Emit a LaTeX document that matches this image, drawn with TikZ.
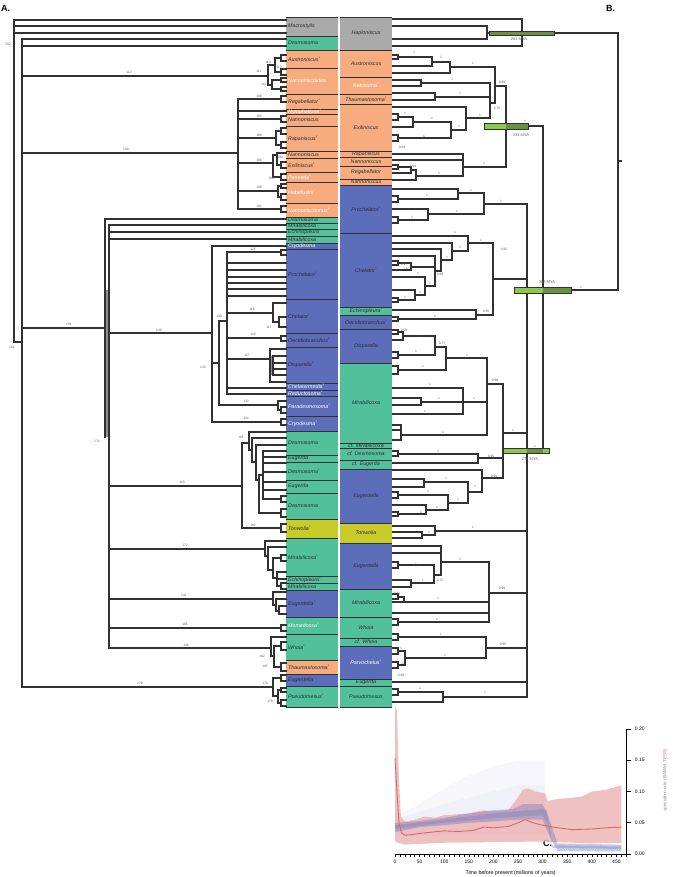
\documentclass[tikz,border=0pt]{standalone}
\usepackage{fontspec}
\setmainfont{Liberation Sans}
\definecolor{cgray}{RGB}{170,170,170}
\definecolor{cgreen}{RGB}{82,192,155}
\definecolor{corange}{RGB}{247,172,128}
\definecolor{cblue}{RGB}{92,110,185}
\definecolor{cyellow}{RGB}{200,204,42}
\definecolor{tline}{RGB}{50,50,50}
\definecolor{ctext}{RGB}{45,45,55}
\definecolor{nlab}{RGB}{95,95,95}
\definecolor{barl}{RGB}{140,200,80}
\definecolor{bard}{RGB}{105,145,65}
\definecolor{tred}{RGB}{215,105,105}
\definecolor{bred}{RGB}{236,182,182}
\definecolor{bblue}{RGB}{115,120,190}
\definecolor{ylab}{RGB}{130,135,195}
\tikzset{
 tr/.style={draw=tline, line width=1.05pt, line cap=rect},
 cb/.style={draw=tline, line width=0.7pt},
 ct/.style={font=\fontsize{5.3}{6}\selectfont\itshape, inner sep=0pt},
 nl/.style={font=\fontsize{3.3}{4}\selectfont, text=nlab, inner sep=0pt},
 al/.style={font=\fontsize{5}{6}\selectfont, inner sep=0pt},
 bigl/.style={font=\bfseries\fontsize{9}{10}\selectfont, inner sep=0pt, anchor=west},
 barout/.style={draw=tline, line width=0.5pt},
}
\newcounter{cc}
\newcounter{nn}
\newcommand{\tstar}{\textsuperscript{*}}
\newcommand{\tV}[3]{\draw[tr] (#1,#2) -- (#1,#3);}
\newcommand{\tH}[3]{\draw[tr] (#1,#3) -- (#2,#3);}
\newcommand{\tLF}[2]{\draw[tr] (#1,#2) -- (286,#2);}
\newcommand{\tRF}[2]{\draw[tr] (393,#2) -- (#1,#2);}
\newcommand{\tLP}[2]{\draw[tr] (286,#1) -- (281,#1) -- (281,#2) -- (286,#2);}
\newcommand{\tRP}[2]{\draw[tr] (393,#1) -- (398,#1) -- (398,#2) -- (393,#2);}
\newcommand{\tN}[3]{\stepcounter{nn}\node[nl] (n\thenn) at (#1,#2) {#3};}
\newcommand{\LC}[5]{\stepcounter{cc}\fill[#3] (286,#1) rectangle (338,#2); \draw[cb] (286,#1) -- (338,#1); \node[ct,text=#4,anchor=west] (lc\thecc) at (288,{(#1+#2)/2}) {#5};}
\newcommand{\RC}[5]{\stepcounter{cc}\fill[#3] (340,#1) rectangle (392,#2); \draw[cb] (340,#1) -- (392,#1); \node[ct,text=#4] (rc\thecc) at (366,{(#1+#2)/2}) {#5};}
\begin{document}
\begin{tikzpicture}[x=1pt,y=-1pt]
\useasboundingbox (0,0) rectangle (672,877);
% ---------- left column ----------
\LC{17}{36}{cgray}{ctext}{Macrostylis}
\LC{36}{50}{cgreen}{ctext}{Desmosoma}
\LC{50}{68}{corange}{ctext}{Austroniscus\tstar}
\LC{68}{94}{corange}{white}{Nannoniscoides}
\LC{94}{109}{corange}{ctext}{Regabellator\tstar}
\LC{109}{114}{corange}{white}{Nymphatione\tstar}
\LC{114}{126}{corange}{ctext}{Nannoniscus}
\LC{126}{151}{corange}{ctext}{Rapaniscus\tstar}
\LC{151}{158}{corange}{ctext}{Nannoniscus}
\LC{158}{172}{corange}{ctext}{Exiliniscus\tstar}
\LC{172}{182}{corange}{white}{Panetela\tstar}
\LC{182}{203}{corange}{white}{Hebefustis\tstar}
\LC{203}{217}{corange}{white}{Nannoniscoonus\tstar}
\LC{217}{223}{cgreen}{ctext}{Desmosoma}
\LC{223}{229}{cgreen}{ctext}{Mirabilicoxa}
\LC{229}{236}{cgreen}{ctext}{Echinopleura}
\LC{236}{243}{cgreen}{ctext}{Mirabilicoxa}
\LC{243}{249}{cblue}{white}{Cryodesma}
\LC{249}{299}{cblue}{ctext}{Prochelator\tstar}
\LC{299}{333}{cblue}{ctext}{Chelator\tstar}
\LC{333}{347}{cblue}{ctext}{Oecidiobranchus\tstar}
\LC{347}{383}{cblue}{ctext}{Disparella\tstar}
\LC{383}{390}{cblue}{white}{Chelatermedia\tstar}
\LC{390}{396}{cblue}{white}{Reductosoma\tstar}
\LC{396}{416}{cblue}{white}{Paradesmosoma\tstar}
\LC{416}{431}{cblue}{white}{Cryodesma\tstar}
\LC{431}{455}{cgreen}{ctext}{Desmosoma}
\LC{455}{462}{cgreen}{ctext}{Eugerda}
\LC{462}{480}{cgreen}{ctext}{Desmosoma\tstar}
\LC{480}{493}{cgreen}{ctext}{Eugerda}
\LC{493}{519}{cgreen}{ctext}{Desmosoma}
\LC{519}{538}{cyellow}{ctext}{Tonwolia\tstar}
\LC{538}{576}{cgreen}{ctext}{Mirabilicoxa\tstar}
\LC{576}{583}{cgreen}{ctext}{Echinopleura\tstar}
\LC{583}{590}{cgreen}{ctext}{Mirabilicoxa}
\LC{590}{617}{cblue}{ctext}{Eugerdella\tstar}
\LC{617}{634}{cgreen}{white}{Momedossa\tstar}
\LC{634}{660}{cgreen}{ctext}{Whoia\tstar}
\LC{660}{674}{corange}{ctext}{Thaumastosoma\tstar}
\LC{674}{686}{cblue}{ctext}{Eugerdella}
\LC{686}{707}{cgreen}{ctext}{Pseudomesus\tstar}
\draw[cb] (286,707) -- (338,707);
% ---------- right column ----------
\RC{17}{50}{cgray}{ctext}{Haploniscus}
\RC{50}{77}{corange}{ctext}{Austroniscus}
\RC{77}{94}{corange}{white}{Ketosoma\tstar}
\RC{94}{104}{corange}{ctext}{Thaumastosoma\tstar}
\RC{104}{151}{corange}{ctext}{Exiliniscus}
\RC{151}{157}{corange}{ctext}{Rapaniscus}
\RC{157}{166}{corange}{ctext}{Nannoniscus}
\RC{166}{179}{corange}{ctext}{Regabellator}
\RC{179}{185}{corange}{ctext}{Nannoniscus}
\RC{185}{233}{cblue}{ctext}{Prochelator\tstar}
\RC{233}{307}{cblue}{ctext}{Chelator\tstar}
\RC{307}{315}{cgreen}{ctext}{Echinopleura\tstar}
\RC{315}{329}{cblue}{ctext}{Oecidiobranchus\tstar}
\RC{329}{363}{cblue}{ctext}{Disparella}
\RC{363}{443}{cgreen}{ctext}{Mirabilicoxa}
\RC{443}{448}{cgreen}{ctext}{cf. Mirabilicoxa}
\RC{448}{460}{cgreen}{ctext}{cf. Desmosoma}
\RC{460}{469}{cgreen}{ctext}{cf. Eugerda}
\RC{469}{523}{cblue}{ctext}{Eugerdella}
\RC{523}{543}{cyellow}{ctext}{Tonwolia}
\RC{543}{589}{cblue}{ctext}{Eugerdella}
\RC{589}{617}{cgreen}{ctext}{Mirabilicoxa}
\RC{617}{638}{cgreen}{ctext}{Whoia}
\RC{638}{646}{cgreen}{ctext}{cf. Whoia}
\RC{646}{679}{cblue}{white}{Parvochelus\tstar}
\RC{679}{686}{cgreen}{ctext}{Eugerda}
\RC{686}{707}{cgreen}{ctext}{Pseudomesus}
\draw[cb] (340,707) -- (392,707);
% ---------- left tree ----------
\tV{14}{20}{342}
\tLF{14}{20} \tLF{14}{26} \tLF{14}{33}
\tH{14}{22}{342}
\tV{22}{39}{687}
\tLF{22}{39} \tLF{22}{46}
\tH{22}{268}{76}
\tH{22}{238}{153}
\tH{22}{105}{328}
\tH{22}{273}{687}
% 112
\tV{268}{65}{85}
\tH{268}{275}{65}
\tV{275}{58}{72}
\tH{275}{281}{58} \tLP{55}{61}
\tH{275}{281}{72} \tLP{69}{75}
\tH{268}{272}{85}
\tV{272}{80}{89}
\tH{272}{281}{80} \tLP{78}{82}
\tH{272}{281}{89} \tLP{87}{91}
% 199
\tV{238}{99}{209}
\tH{238}{281}{99} \tLP{96}{102}
\tLF{238}{111}
\tH{238}{281}{119} \tLP{116}{122}
\tH{238}{276}{138} \tV{276}{131}{145}
\tH{276}{281}{131} \tLP{128}{134}
\tH{276}{281}{145} \tLP{142}{148}
\tH{238}{273}{163} \tV{273}{155}{177}
\tH{273}{277}{155} \tV{277}{153}{165} \tLF{277}{153}
\tH{277}{281}{165} \tLP{162}{168}
\tH{273}{281}{177} \tLP{174}{180}
\tH{238}{278}{191} \tV{278}{186}{197}
\tH{278}{281}{186} \tLP{184}{188}
\tH{278}{281}{197} \tLP{194}{200}
\tH{238}{281}{209} \tLP{206}{212}
% 181 / 174
\fill[tline!55] (105,290) rectangle (109,437);
\tV{105}{219}{437}
\tLF{105}{219}
\tV{109}{225}{648}
\tLF{109}{225} \tLF{109}{232} \tLF{109}{239}
\tH{109}{212}{333}
\tH{109}{242}{486}
\tH{109}{265}{549}
\tH{109}{273}{599}
\tH{109}{281}{628} \tLP{625}{631}
\tH{109}{271}{648}
% 149
\tV{212}{246}{422}
\tLF{212}{246}
\tH{212}{219}{363}
\tH{212}{281}{422} \tLP{419}{425}
% 133
\tV{219}{321}{405}
\tH{219}{227}{321}
\tH{219}{278}{405} \tV{278}{401}{410} \tLF{278}{401}
\tH{278}{281}{410} \tLP{407}{413}
% 130
\tV{227}{252}{394}
\tH{227}{281}{252} \tLP{250}{255}
\tLF{227}{263} \tLF{227}{270} \tLF{227}{277} \tLF{227}{283} \tLF{227}{289} \tLF{227}{296}
\tH{227}{273}{313} \tV{273}{303}{322} \tLF{273}{303}
\tH{273}{279}{322} \tV{279}{317}{327} \tLF{279}{317} \tLF{279}{327}
\tH{227}{281}{338} \tLP{336}{341}
\fill[tline!55] (270,356) rectangle (273,375);
\tH{227}{270}{359} \tV{270}{349}{382} \tLF{270}{349} \tLF{270}{382}
\tV{273}{356}{375} \tLF{273}{356} \tLF{273}{363} \tLF{273}{369} \tLF{273}{375}
\tLF{227}{388} \tLF{227}{394}
% 163
\tV{242}{443}{528}
\tH{242}{249}{443}
\tH{242}{281}{528} \tLP{524}{532}
\tV{249}{432}{450} \tLF{249}{432} \tH{249}{252}{450}
\tV{252}{438}{462} \tLF{252}{438} \tH{252}{256}{462}
\tV{256}{445}{480} \tLF{256}{445} \tH{256}{259}{480}
\tV{259}{475}{513} \tH{259}{263}{475} \tH{259}{281}{513} \tLP{509}{517}
\tV{263}{451}{499} \tLF{263}{451} \tLF{263}{457} \tLF{263}{463} \tLF{263}{472} \tLF{263}{482} \tLF{263}{490}
\tH{263}{281}{499} \tLP{496}{502}
% 172
\tV{265}{541}{556} \tLF{265}{541} \tH{265}{268}{556}
\tV{268}{547}{570} \tLF{268}{547} \tH{268}{273}{570}
\tV{273}{558}{578} \tH{273}{281}{558} \tLP{555}{561} \tH{273}{277}{578}
\tV{277}{572}{586} \tLF{277}{572} \tLF{277}{579} \tH{277}{281}{586} \tLP{583}{589}
% 141
\tV{273}{592}{605} \tLF{273}{592} \tH{273}{276}{605}
\tV{276}{599}{611} \tLF{276}{599} \tH{276}{279}{611}
\tV{279}{606}{614} \tLF{279}{606} \tLF{279}{614}
% 146
\tV{271}{637}{656} \tLF{271}{637} \tH{271}{274}{656}
\tV{274}{646}{667} \tH{274}{281}{646} \tLP{642}{650}
\tH{274}{281}{667} \tLP{663}{671}
% 179
\tV{273}{678}{696} \tH{273}{281}{678} \tLP{675}{681} \tH{273}{278}{696}
\tV{278}{690}{703} \tH{278}{281}{690} \tLP{688}{692} \tH{278}{281}{703} \tLP{700}{706}
% left labels
\tN{8}{44}{202} \tN{12}{347}{201} \tN{129}{72}{114} \tN{259}{71}{112}
\tN{268}{62}{110} \tN{279}{67}{113} \tN{264}{84}{111} \tN{259}{96}{189}
\tN{259}{116}{194} \tN{259}{135}{188} \tN{126}{149}{199} \tN{259}{160}{186}
\tN{280}{157}{190} \tN{271}{178}{184} \tN{259}{187}{198} \tN{259}{206}{192}
\tN{253}{249}{125} \tN{69}{324}{181} \tN{159}{330}{149} \tN{219}{316}{130}
\tN{252}{309}{116} \tN{269}{327}{117} \tN{253}{334}{129} \tN{247}{355}{127}
\tN{203}{367}{133} \tN{246}{401}{132} \tN{246}{418}{134} \tN{97}{441}{174}
\tN{241}{437}{161} \tN{182}{482}{163} \tN{253}{525}{162} \tN{185}{545}{172}
\tN{184}{595}{141} \tN{185}{624}{165} \tN{186}{645}{146} \tN{262}{656}{142}
\tN{265}{666}{145} \tN{140}{683}{179} \tN{265}{683}{176} \tN{270}{701}{178}
% ---------- right tree ----------
\tRF{522}{19} \tRF{522}{46} \tV{522}{19}{46}
\tRF{487}{26} \tRF{487}{39} \tV{487}{26}{39}
\tH{487}{618}{33}
% orange
\tRP{55}{59} \tH{398}{432}{57} \tRF{432}{66} \tV{432}{57}{66}
\tH{432}{450}{62} \tRF{450}{73} \tV{450}{62}{73} \tH{450}{495}{67}
\tRF{421}{80} \tRF{421}{86} \tV{421}{80}{86} \tH{421}{490}{83}
\tRF{435}{93} \tRF{435}{100} \tV{435}{93}{100} \tH{435}{490}{97}
\tRF{466}{107} \tV{466}{107}{130} \tH{466}{490}{118}
\tRP{114}{120} \tH{398}{413}{117} \tRF{413}{127} \tV{413}{117}{127} \tH{413}{451}{122}
\tRP{135}{141} \tH{398}{451}{138} \tV{451}{122}{138} \tH{451}{466}{130}
\tV{490}{83}{118} \tH{490}{495}{103} \tV{495}{67}{103} \tH{495}{506}{86}
\tRF{463}{154} \tRF{463}{160}
\tRP{165}{169} \tH{398}{411}{167} \tRF{411}{173} \tV{411}{167}{173} \tH{411}{416}{170}
\tRF{416}{180} \tV{416}{170}{180} \tH{416}{463}{176} \tV{463}{154}{176}
\tH{463}{506}{167}
\tV{506}{86}{167} \tH{506}{543}{126}
% prochelator
\tRF{458}{189} \tRP{196}{202} \tH{398}{458}{199} \tV{458}{189}{199} \tH{458}{484}{193}
\tRF{428}{209} \tRP{217}{223} \tH{398}{428}{220} \tV{428}{209}{220} \tH{428}{484}{214}
\tV{484}{193}{214} \tH{484}{527}{204}
% chelator
\tRP{261}{265} \tH{398}{411}{263} \tRF{411}{270} \tV{411}{263}{270} \tH{411}{435}{267}
\tRF{425}{277} \tV{425}{277}{295} \tH{425}{435}{286}
\tRF{415}{290} \tRP{298}{302} \tH{398}{415}{300} \tV{415}{290}{300} \tH{415}{425}{295}
\tRF{435}{256} \tV{435}{256}{286} \tH{435}{441}{271}
\tRF{441}{249} \tV{441}{249}{271} \tH{441}{452}{260}
\tRF{452}{243} \tV{452}{243}{260} \tH{452}{468}{251}
\tRF{468}{236} \tV{468}{236}{251} \tH{468}{493}{243}
\tRF{476}{310} \tRP{317}{321} \tH{398}{476}{319} \tV{476}{310}{319} \tH{476}{493}{315}
\tV{493}{243}{315} \tH{493}{527}{279}
% disparella / mirabilicoxa
\tRP{330}{334} \tH{398}{403}{332} \tRF{403}{340} \tV{403}{332}{340} \tH{403}{435}{336}
\tRP{352}{358} \tH{398}{435}{355} \tV{435}{336}{355} \tH{435}{446}{347}
\tRP{366}{374} \tH{398}{446}{370} \tV{446}{347}{370} \tH{446}{487}{358}
\tRF{463}{388} \tRF{463}{414} \tV{463}{388}{414}
\tRF{421}{398} \tRF{421}{405} \tV{421}{398}{405} \tH{421}{487}{402}
\tRF{401}{425} \tRF{401}{430} \tRF{401}{440} \tV{401}{425}{440} \tH{401}{487}{435}
\tV{487}{358}{435} \tH{487}{503}{384}
\tRP{451}{456} \tH{398}{478}{454} \tRF{478}{463} \tV{478}{454}{463} \tH{478}{503}{458}
\tRF{482}{470} \tV{482}{470}{492} \tH{482}{503}{478}
\tRF{424}{479} \tRF{424}{487} \tV{424}{479}{487} \tH{424}{468}{482}
\tRP{492}{498} \tH{398}{448}{495}
\tRF{426}{505} \tRP{512}{516} \tH{398}{426}{514} \tV{426}{505}{514} \tH{426}{448}{510}
\tV{448}{495}{510} \tH{448}{468}{503}
\tV{468}{482}{503} \tH{468}{482}{492}
\tV{503}{384}{478} \tH{503}{527}{433}
% tonwolia
\tRF{435}{526} \tRF{422}{532} \tRF{422}{538} \tV{422}{532}{538} \tH{422}{435}{535}
\tV{435}{526}{535} \tH{435}{527}{531}
% eugerdella / mirabilicoxa
\tRF{441}{546} \tRF{441}{553} \tV{441}{546}{575} \tH{441}{489}{562}
\tRP{562}{568} \tH{398}{434}{565} \tV{434}{565}{583} \tH{434}{441}{575}
\tRF{411}{580} \tRF{411}{587} \tV{411}{580}{587} \tH{411}{434}{583}
\tRP{594}{599} \tH{398}{404}{597} \tV{404}{597}{602} \tRF{489}{602}
\tRF{489}{613}
\tRP{619}{625} \tH{398}{489}{622}
\tV{489}{562}{622} \tH{489}{527}{593}
% whoia / parvochelus
\tRP{634}{640} \tH{398}{486}{637}
\tRP{648}{654} \tH{398}{405}{651}
\tRP{662}{668} \tH{398}{405}{665}
\tV{405}{651}{665} \tH{405}{486}{658}
\tV{486}{637}{658} \tH{486}{527}{648}
\tRF{527}{682}
\tRP{689}{695} \tH{398}{443}{692} \tRF{443}{702} \tV{443}{692}{702} \tH{443}{527}{697}
\tV{527}{204}{697} \tH{527}{543}{450}
\tV{543}{126}{450} \tH{543}{618}{290}
\tV{618}{33}{290} \tH{618}{621}{161}
% bars
\fill[bard] (489,31) rectangle (554,35); \draw[barout] (489,31) rectangle (554,35);
\fill[barl] (484,123) rectangle (528,129); \fill[bard] (506,123) rectangle (528,129); \draw[barout] (484,123) rectangle (528,129);
\fill[barl] (514,287) rectangle (571,293); \fill[bard] (543,287) rectangle (571,293); \draw[barout] (514,287) rectangle (571,293);
\fill[barl] (503,448) rectangle (549,453); \fill[bard] (527,448) rectangle (543,453); \draw[barout] (503,448) rectangle (549,453);
\node[nl,font=\fontsize{4}{5}\selectfont] (m283) at (519,39) {283 MYA};
\node[nl,font=\fontsize{4}{5}\selectfont] (m231) at (521,135) {231 MYA};
\node[nl,font=\fontsize{4}{5}\selectfont] (m306) at (547,282) {306 MYA};
\node[nl,font=\fontsize{4}{5}\selectfont] (m274) at (530,459) {274 MYA};
% right labels
\tN{488}{27}{1} \tN{414}{52}{1} \tN{441}{57}{1} \tN{473}{63}{1} \tN{502}{82}{0.99}
\tN{452}{79}{1} \tN{460}{93}{1} \tN{497}{108}{0.76} \tN{480}{115}{1} \tN{405}{113}{1}
\tN{432}{118}{1} \tN{459}{126}{1} \tN{424}{136}{1} \tN{402}{147}{0.83} \tN{525}{121}{1}
\tN{413}{166}{0.99} \tN{439}{173}{1} \tN{484}{163}{1} \tN{471}{190}{1} \tN{427}{195}{1}
\tN{501}{201}{1} \tN{457}{211}{1} \tN{412}{217}{1} \tN{455}{232}{1} \tN{481}{240}{1}
\tN{460}{247}{1} \tN{504}{249}{0.95} \tN{447}{257}{1} \tN{404}{264}{0.97} \tN{407}{268}{1}
\tN{418}{273}{1} \tN{440}{274}{0.98} \tN{430}{283}{1} \tN{420}{292}{1} \tN{405}{297}{1}
\tN{486}{311}{0.85} \tN{435}{316}{1} \tN{404}{330}{0.98} \tN{419}{336}{1} \tN{442}{343}{0.77}
\tN{416}{351}{1} \tN{467}{355}{1} \tN{423}{366}{1} \tN{495}{380}{0.98} \tN{430}{384}{1}
\tN{439}{398}{1} \tN{474}{398}{1} \tN{425}{411}{1} \tN{443}{432}{1} \tN{513}{430}{1}
\tN{535}{446}{1} \tN{491}{456}{0.95} \tN{438}{451}{1} \tN{494}{476}{0.99} \tN{446}{478}{1}
\tN{581}{287}{1} \tN{475}{486}{1} \tN{428}{491}{1} \tN{458}{499}{1} \tN{437}{507}{1}
\tN{421}{512}{1} \tN{473}{527}{1} \tN{429}{532}{1} \tN{460}{559}{1} \tN{416}{564}{1}
\tN{440}{580}{0.75} \tN{423}{580}{1} \tN{502}{588}{0.99} \tN{397}{593}{0.81} \tN{438}{598}{1}
\tN{437}{619}{1} \tN{441}{634}{1} \tN{503}{644}{0.95} \tN{401}{648}{1} \tN{445}{655}{1}
\tN{403}{663}{1} \tN{401}{675}{0.99} \tN{420}{688}{1} \tN{485}{692}{1}
% panel letters
\node[bigl] (lA) at (1,8) {A.};
\node[bigl] (lB) at (606,8) {B.};
\node[bigl] (lC) at (543,843) {C.};
% ---------- chart ----------
\begin{scope}[shift={(395,854)},x=0.492pt,y=625pt]
\fill[bblue,opacity=0.06] (0,0.03) -- (0,0.06) -- (50,0.08) -- (100,0.105) -- (150,0.125) -- (200,0.14) -- (250,0.15) -- (305,0.15) -- (305,0.03) -- cycle;
\fill[bblue,opacity=0.06] (0,0.03) -- (0,0.055) -- (100,0.08) -- (200,0.1) -- (250,0.11) -- (305,0.11) -- (305,0.03) -- cycle;
\fill[bred,opacity=0.85] (0,0.02) -- (0,0.235) -- (4,0.23) -- (8,0.12) -- (12,0.06) -- (20,0.052) -- (40,0.055) -- (60,0.06) -- (80,0.058) -- (100,0.062) -- (150,0.065) -- (180,0.07) -- (200,0.068) -- (230,0.07) -- (245,0.085) -- (260,0.103) -- (270,0.105) -- (285,0.1) -- (305,0.097) -- (310,0.085) -- (330,0.088) -- (360,0.09) -- (380,0.092) -- (400,0.1) -- (430,0.103) -- (460,0.11) -- (460,0.018) -- (400,0.017) -- (300,0.02) -- (200,0.019) -- (100,0.018) -- (20,0.015) -- (10,0.017) -- cycle;
\fill[bblue,opacity=0.4] (0,0.035) -- (50,0.043) -- (100,0.046) -- (150,0.05) -- (200,0.052) -- (250,0.055) -- (300,0.055) -- (310,0.035) -- (330,0.005) -- (460,0.004) -- (460,0.015) -- (330,0.017) -- (312,0.06) -- (300,0.08) -- (260,0.08) -- (240,0.072) -- (200,0.07) -- (150,0.065) -- (100,0.058) -- (50,0.053) -- (0,0.05) -- cycle;
\fill[bblue,opacity=0.35] (0,0.04) -- (100,0.05) -- (200,0.057) -- (300,0.062) -- (310,0.05) -- (320,0.01) -- (460,0.008) -- (460,0.012) -- (320,0.014) -- (308,0.07) -- (300,0.072) -- (200,0.065) -- (100,0.055) -- (0,0.046) -- cycle;
\draw[tred, line width=0.9pt] (0,0.154) -- (4,0.1) -- (8,0.05) -- (13,0.034) -- (20,0.03) -- (35,0.031) -- (50,0.033) -- (75,0.035) -- (100,0.037) -- (130,0.036) -- (160,0.038) -- (180,0.043) -- (200,0.042) -- (230,0.044) -- (250,0.05) -- (265,0.055) -- (280,0.05) -- (300,0.046) -- (330,0.042) -- (360,0.039) -- (400,0.04) -- (430,0.042) -- (460,0.043);
\draw[black,line width=0.6pt] (0,0) -- (471,0);
\foreach \t in {0,10,...,470} \draw[black,line width=0.4pt] (\t,0) -- (\t,-0.004);
\foreach \t in {0,50,...,450} \node[al] (xt\t) at (\t,-0.013) {\t};
\draw[black,line width=0.6pt] (471,0) -- (471,0.2);
\foreach \r/\l in {0/0.00,0.05/0.05,0.1/0.10,0.15/0.15,0.2/0.20} {
  \draw[black,line width=0.6pt] (471,\r) -- ++(4pt,0pt);
  \node[al,anchor=west] (yt\l) at ([xshift=8pt]471,\r) {\l};
}
\node[al,font=\fontsize{5.3}{6}\selectfont] (xlab) at (235,-0.03) {Time before present (millions of years)};
\node[al,rotate=90,font=\fontsize{4.6}{5}\selectfont] (ylab) at (549,0.118) {\textcolor{ylab}{speciation rate (BAMM,} \textcolor{tred}{TESS)}};
\end{scope}
\end{tikzpicture}
\end{document}
